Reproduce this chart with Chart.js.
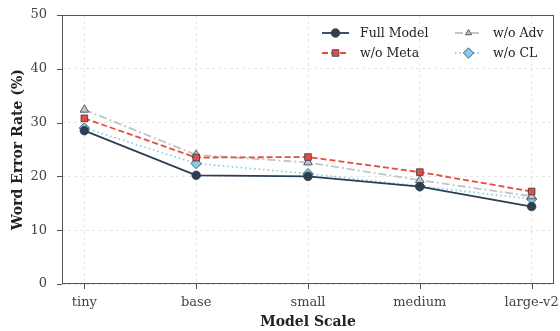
<!DOCTYPE html>
<html>
<head>
<meta charset="utf-8">
<script src="https://cdn.jsdelivr.net/npm/chart.js@4.4.0/dist/chart.umd.min.js"></script>
<style>
  html, body { margin: 0; padding: 0; background: #fff; }
  #wrap { width: 560px; height: 331px; position: relative; }
</style>
</head>
<body>
<div id="wrap"><canvas id="wer-chart"></canvas></div>
<script>
// data
const modelScales = ['tiny', 'base', 'small', 'medium', 'large-v2'];
const fullModel = [28.5, 20.2, 20.0, 18.1, 14.4];
const woMeta = [30.8, 23.5, 23.6, 20.8, 17.2];
const woAdv = [32.4, 24.0, 22.6, 19.3, 16.3];
const woCL = [29.0, 22.4, 20.5, 18.2, 15.8];
const yTicks = [0, 10, 20, 30, 40, 50];

const FONT = "'DejaVu Serif', serif";

function toPoints(arr) {
    return arr.map((v, i) => ({ x: i, y: v }));
}

const series = [
    { label: 'Full Model', data: fullModel, color: '#2c3e50', dash: [], point: 'circle', r: 4.3 },
    { label: 'w/o Meta', data: woMeta, color: '#e74c3c', dash: [6, 3], point: 'rect', r: 4.7 },
    { label: 'w/o Adv', data: woAdv, color: '#c4c4c4', dash: [8, 3, 2, 3], point: 'triangle', r: 5 },
    { label: 'w/o CL', data: woCL, color: '#87ceeb', dash: [1.5, 3], point: 'rectRot', r: 5.2 }
];

// legend slots: [series index, line start x, row y]
const legendSlots = [[0, 322, 33], [1, 322, 53], [2, 455, 33], [3, 455, 53]];

// frame, tick marks and legend drawn by hand
const framePlugin = {
    id: 'frame',
    afterDraw(chart) {
        const { ctx, chartArea: a, scales } = chart;
        ctx.save();
        ctx.strokeStyle = '#555';
        ctx.lineWidth = 1;
        ctx.setLineDash([]);
        ctx.strokeRect(a.left + 0.5, a.top + 0.5, a.right - a.left - 1, a.bottom - a.top - 1);
        ctx.beginPath();
        scales.y.ticks.forEach(t => {
            const py = Math.round(scales.y.getPixelForValue(t.value)) + 0.5;
            ctx.moveTo(a.left - 5, py);
            ctx.lineTo(a.left, py);
        });
        scales.x.ticks.forEach(t => {
            const px = Math.round(scales.x.getPixelForValue(t.value)) + 0.5;
            ctx.moveTo(px, a.bottom);
            ctx.lineTo(px, a.bottom + 5);
        });
        ctx.stroke();

        ctx.font = '12.5px ' + FONT;
        ctx.textBaseline = 'middle';
        legendSlots.forEach(([si, lx, ly]) => {
            const s = series[si];
            ctx.strokeStyle = s.color;
            ctx.lineWidth = 1.8;
            ctx.setLineDash(s.dash);
            ctx.beginPath();
            ctx.moveTo(lx, ly);
            ctx.lineTo(lx + 27, ly);
            ctx.stroke();
            ctx.setLineDash([]);
            ctx.fillStyle = s.color;
            ctx.strokeStyle = '#2c3e50';
            ctx.lineWidth = 0.8;
            const r = si === 2 ? 3.5 : s.r;
            Chart.helpers.drawPoint(ctx, { pointStyle: s.point, radius: r, borderWidth: 0.8 }, lx + 13.5, ly);
            ctx.fillStyle = '#222';
            ctx.fillText(s.label, lx + 38, ly + 1);
        });
        ctx.restore();
    }
};

const datasets = series.map(s => ({
    label: s.label,
    data: toPoints(s.data),
    borderColor: s.color,
    borderWidth: 1.8,
    borderDash: s.dash,
    pointStyle: s.point,
    pointRadius: s.r,
    pointBackgroundColor: s.color,
    pointBorderColor: '#2c3e50',
    pointBorderWidth: 0.8,
    tension: 0,
    fill: false
}));

new Chart(document.getElementById('wer-chart'), {
    type: 'line',
    data: { datasets },
    plugins: [framePlugin],
    options: {
        responsive: true,
        maintainAspectRatio: false,
        animation: false,
        layout: { padding: { top: 15, right: 6, left: 0, bottom: 0 } },
        plugins: {
            legend: { display: false },
            tooltip: { enabled: false }
        },
        scales: {
            x: {
                type: 'linear',
                min: -0.2,
                max: 4.2,
                afterBuildTicks(scale) {
                    scale.ticks = modelScales.map((_, i) => ({ value: i }));
                },
                afterFit(scale) {
                    scale.height = 47;
                    scale.paddingLeft = 0;
                    scale.paddingRight = 0;
                },
                grid: { color: '#e6e6e6', lineWidth: 1, drawTicks: false },
                border: { display: false, dash: [3, 3] },
                ticks: {
                    padding: 11,
                    color: '#444',
                    font: { family: FONT, size: 13 },
                    callback: v => modelScales[v]
                },
                title: {
                    display: true,
                    text: 'Model Scale',
                    color: '#222',
                    font: { family: FONT, size: 14, weight: 'bold' },
                    padding: { top: 0, bottom: 0.5 }
                }
            },
            y: {
                min: 0,
                max: 50,
                afterBuildTicks(scale) {
                    scale.ticks = yTicks.map(v => ({ value: v }));
                },
                afterFit(scale) {
                    scale.width = 62;
                    scale.paddingTop = 0;
                    scale.paddingBottom = 0;
                },
                grid: { color: '#e6e6e6', lineWidth: 1, drawTicks: false },
                border: { display: false, dash: [3, 3] },
                ticks: {
                    padding: 15,
                    color: '#444',
                    font: { family: FONT, size: 13 }
                },
                title: {
                    display: true,
                    text: 'Word Error Rate (%)',
                    color: '#222',
                    font: { family: FONT, size: 14, weight: 'bold' },
                    padding: { top: 10, bottom: 0 }
                }
            }
        }
    }
});
</script>
</body>
</html>
